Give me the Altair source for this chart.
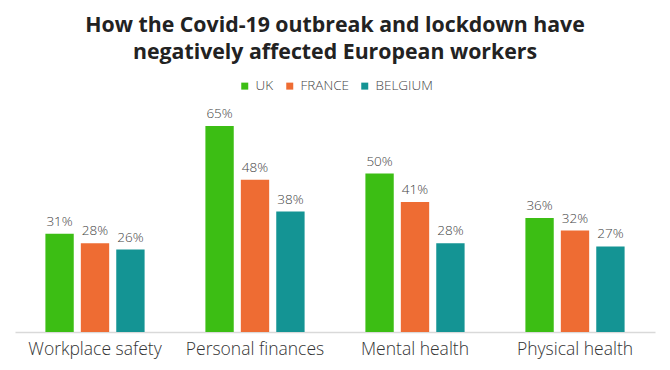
import altair as alt
import pandas as pd

categories = ["Workplace safety", "Personal finances", "Mental health", "Physical health"]
countries = ["UK", "FRANCE", "BELGIUM"]
uk = [31, 65, 50, 36]
france = [28, 48, 41, 32]
belgium = [26, 38, 28, 27]
colors = ["#3cbe14", "#ee6c33", "#149494"]

rows = []
for i, c in enumerate(categories):
    for country, vals in zip(countries, [uk, france, belgium]):
        rows.append({"category": c, "country": country, "value": vals[i],
                     "label": f"{vals[i]}%"})
df = pd.DataFrame(rows)

FONT = "Open Sans"

x = alt.X("category:N", sort=categories, title=None,
          scale=alt.Scale(paddingInner=0.38, paddingOuter=0.19),
          axis=alt.Axis(labelAngle=0, labelFontSize=17.5, labelColor="#333333",
                        labelFont=FONT, labelFontWeight=300, labelPadding=8, ticks=False,
                        domainColor="#d9d9d9", domainWidth=1.5, grid=False))
xo = alt.XOffset("country:N", sort=countries,
                 scale=alt.Scale(paddingInner=0.2))
y = alt.Y("value:Q", axis=None, scale=alt.Scale(domain=[0, 73.2]))

bars = alt.Chart(df).mark_bar().encode(
    x=x, xOffset=xo, y=y,
    color=alt.Color("country:N", sort=countries,
                    scale=alt.Scale(domain=countries, range=colors),
                    legend=alt.Legend(title=None, orient="none", direction="horizontal",
                                      legendX=223, legendY=-21,
                                      symbolType="square", symbolSize=49,
                                      symbolStrokeWidth=0,
                                      labelFontSize=13.5, labelFont=FONT, labelFontWeight=300,
                                      labelColor="#444444", columnPadding=9,
                                      labelOffset=4)),
)

text = alt.Chart(df).mark_text(dy=-8, baseline="alphabetic", fontSize=13.5, font=FONT,
                               fontWeight=300, color="#444444").encode(
    x=x, xOffset=xo, y=y, text="label:N"
)

chart = (bars + text).properties(
    width=640, height=232,
    title=alt.Title(
        ["How the Covid-19 outbreak and lockdown have",
         "negatively affected European workers"],
        font=FONT, fontSize=21.3, fontWeight="bold", color="#222222",
        anchor="middle", lineHeight=27, offset=16,
    ),
    autosize=alt.AutoSizeParams(type="none"),
    padding={"left": 7, "top": 92, "right": 7, "bottom": 30},
).configure_view(stroke=None)

chart.save("out.html", embed_options={"renderer": "svg", "actions": False})
